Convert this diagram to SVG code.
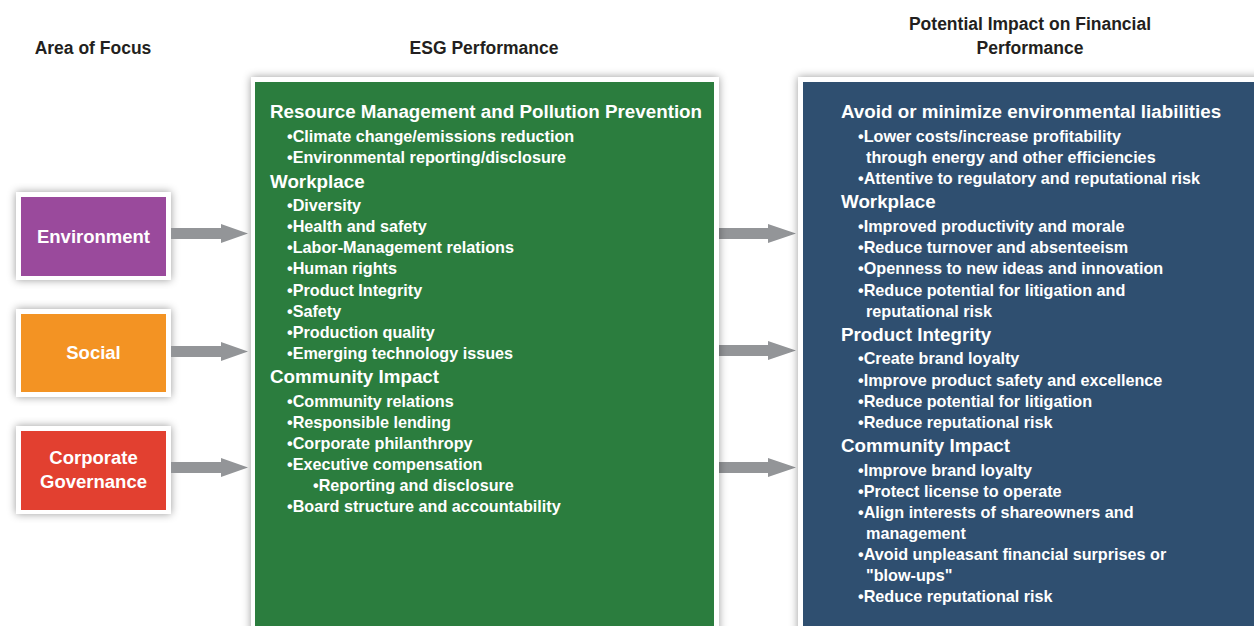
<svg xmlns="http://www.w3.org/2000/svg" width="1254" height="626" viewBox="0 0 1254 626">
<defs>
<filter id="sh" x="-10%" y="-10%" width="120%" height="120%">
<feDropShadow dx="0" dy="0" stdDeviation="4" flood-color="#000" flood-opacity="0.4"/>
</filter>
<style>
text{font-family:"Liberation Sans",Arial,sans-serif;font-weight:bold}
.hdr{font-size:17.5px;fill:#231f20;text-anchor:middle}
.lbl{font-size:18.5px;fill:#fff;text-anchor:middle}
.h{font-size:18.8px;fill:#fff}
.i{font-size:16.2px;fill:#fff}
.frame{fill:#fff;filter:url(#sh)}
.arrow{fill:#939598}
</style>
</defs>
<rect width="1254" height="626" fill="#fff"/>
<g id="headers">
<text class="hdr" x="93" y="54">Area of Focus</text>
<text class="hdr" x="484" y="54">ESG Performance</text>
<text class="hdr" x="1030" y="30">Potential Impact on Financial</text>
<text class="hdr" x="1030" y="54">Performance</text>
</g>
<g id="environment">
<rect class="frame" x="16" y="192" width="155" height="88"/>
<rect x="21" y="197" width="145" height="79" fill="#9a4a9c"/>
<text class="lbl" x="93.5" y="243">Environment</text>
</g>
<g id="social">
<rect class="frame" x="16" y="309" width="155" height="88"/>
<rect x="21" y="314" width="145" height="78" fill="#f39323"/>
<text class="lbl" x="93.5" y="359">Social</text>
</g>
<g id="governance">
<rect class="frame" x="16" y="426" width="155" height="88"/>
<rect x="21" y="431" width="145" height="79" fill="#e24030"/>
<text class="lbl" x="93.5" y="464">Corporate</text>
<text class="lbl" x="93.5" y="488">Governance</text>
</g>
<g id="connectors">
<polygon class="arrow" points="171,228 221,228 221,224 248,233.5 221,243 221,239 171,239"/>
<polygon class="arrow" points="171,346 221,346 221,342 248,351.5 221,361 221,357 171,357"/>
<polygon class="arrow" points="171,462 221,462 221,458 248,467.5 221,477 221,473 171,473"/>
<polygon class="arrow" points="718,228 768,228 768,224 796,233.5 768,243 768,239 718,239"/>
<polygon class="arrow" points="718,345 768,345 768,341 796,350.5 768,360 768,356 718,356"/>
<polygon class="arrow" points="718,462 768,462 768,458 796,467.5 768,477 768,473 718,473"/>
</g>
<g id="esg-performance">
<rect class="frame" x="251" y="77" width="468" height="570"/>
<rect x="255" y="82" width="459" height="560" fill="#2b7d3e"/>
<text class="h" x="270" y="118">Resource Management and Pollution Prevention</text>
<text class="i" x="287" y="142">•Climate change/emissions reduction</text>
<text class="i" x="287" y="163">•Environmental reporting/disclosure</text>
<text class="h" x="270" y="188">Workplace</text>
<text class="i" x="287" y="211">•Diversity</text>
<text class="i" x="287" y="232">•Health and safety</text>
<text class="i" x="287" y="253">•Labor-Management relations</text>
<text class="i" x="287" y="274">•Human rights</text>
<text class="i" x="287" y="296">•Product Integrity</text>
<text class="i" x="287" y="317">•Safety</text>
<text class="i" x="287" y="338">•Production quality</text>
<text class="i" x="287" y="359">•Emerging technology issues</text>
<text class="h" x="270" y="383">Community Impact</text>
<text class="i" x="287" y="407">•Community relations</text>
<text class="i" x="287" y="428">•Responsible lending</text>
<text class="i" x="287" y="449">•Corporate philanthropy</text>
<text class="i" x="287" y="470">•Executive compensation</text>
<text class="i" x="313" y="491">•Reporting and disclosure</text>
<text class="i" x="287" y="512">•Board structure and accountability</text>
</g>
<g id="financial-impact">
<rect class="frame" x="798" y="77" width="470" height="570"/>
<rect x="803" y="82" width="460" height="560" fill="#2f4f70"/>
<text class="h" x="841" y="118">Avoid or minimize environmental liabilities</text>
<text class="i" x="858" y="142">•Lower costs/increase profitability</text>
<text class="i" x="866" y="163">through energy and other efficiencies</text>
<text class="i" x="858" y="184">•Attentive to regulatory and reputational risk</text>
<text class="h" x="841" y="208">Workplace</text>
<text class="i" x="858" y="232">•Improved productivity and morale</text>
<text class="i" x="858" y="253">•Reduce turnover and absenteeism</text>
<text class="i" x="858" y="274">•Openness to new ideas and innovation</text>
<text class="i" x="858" y="296">•Reduce potential for litigation and</text>
<text class="i" x="866" y="317">reputational risk</text>
<text class="h" x="841" y="341">Product Integrity</text>
<text class="i" x="858" y="364">•Create brand loyalty</text>
<text class="i" x="858" y="386">•Improve product safety and excellence</text>
<text class="i" x="858" y="407">•Reduce potential for litigation</text>
<text class="i" x="858" y="428">•Reduce reputational risk</text>
<text class="h" x="841" y="452">Community Impact</text>
<text class="i" x="858" y="476">•Improve brand loyalty</text>
<text class="i" x="858" y="497">•Protect license to operate</text>
<text class="i" x="858" y="518">•Align interests of shareowners and</text>
<text class="i" x="866" y="539">management</text>
<text class="i" x="858" y="560">•Avoid unpleasant financial surprises or</text>
<text class="i" x="866" y="581">"blow-ups"</text>
<text class="i" x="858" y="602">•Reduce reputational risk</text>
</g>
</svg>
